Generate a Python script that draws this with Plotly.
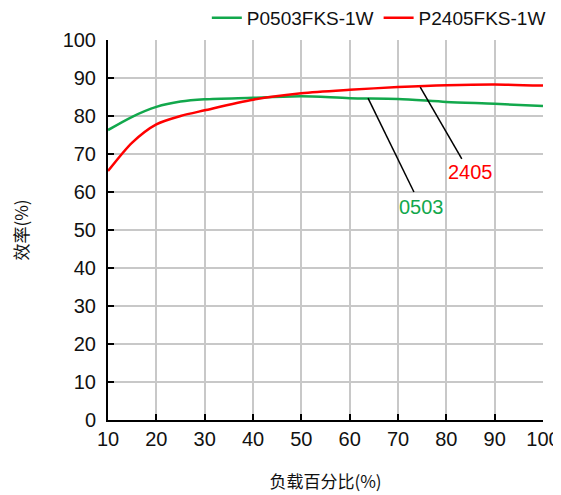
import plotly.graph_objects as go

load = [10, 15, 20, 25, 30, 40, 50, 60, 70, 80, 90, 100]
eff_0503 = [76.3, 79.8, 82.4, 83.8, 84.4, 84.8, 85.2, 84.7, 84.5, 83.7, 83.2, 82.6]
eff_2405 = [65.5, 73.0, 77.8, 80.0, 81.5, 84.3, 86.0, 86.9, 87.6, 88.1, 88.3, 88.0]

x_ticks = [10, 20, 30, 40, 50, 60, 70, 80, 90, 100]
y_ticks = [0, 10, 20, 30, 40, 50, 60, 70, 80, 90, 100]

GREEN = "#12a84c"
RED = "#ff0000"
FONT = "Liberation Sans, Arial, sans-serif"
CJK = "Noto Sans CJK SC"

fig = go.Figure()
fig.add_trace(go.Scatter(x=load, y=eff_0503, mode="lines", name="P0503FKS-1W",
                         line=dict(color=GREEN, width=2.5, shape="spline", smoothing=0.8)))
fig.add_trace(go.Scatter(x=load, y=eff_2405, mode="lines", name="P2405FKS-1W",
                         line=dict(color=RED, width=2.5, shape="spline", smoothing=0.8)))

# leader lines
fig.add_shape(type="line", x0=63.8, y0=84.7, x1=73.3, y1=60.0, line=dict(color="black", width=1.5))
fig.add_shape(type="line", x0=74.6, y0=87.6, x1=83.2, y1=68.7, line=dict(color="black", width=1.5))
fig.add_annotation(x=74.8, y=56.0, text="0503", showarrow=False,
                   font=dict(family=FONT, size=20, color=GREEN))
fig.add_annotation(x=84.9, y=65.3, text="2405", showarrow=False,
                   font=dict(family=FONT, size=20, color=RED))

fig.update_layout(
    width=553, height=487,
    margin=dict(l=100, r=18, t=32, b=75, autoexpand=False),
    paper_bgcolor="white", plot_bgcolor="white",
    font=dict(family=FONT, size=20, color="#111111"),
    showlegend=True,
    legend=dict(orientation="h", x=1.018, xanchor="right", y=1.058, yanchor="middle",
                font=dict(family=FONT, size=19, color="#111111"),
                bgcolor="rgba(0,0,0,0)", itemwidth=30, tracegroupgap=0),
)
fig.update_xaxes(range=[10, 100], tickvals=x_ticks, showgrid=True, gridcolor="#c8c8c8", gridwidth=1.5,
                 showline=True, linecolor="black", linewidth=2, ticks="inside", ticklen=6,
                 tickcolor="black", tickwidth=1.5, zeroline=False, mirror=False, automargin=False,
                 tickfont=dict(size=20),
                 title=dict(text="负载百分比(%)", font=dict(family=CJK, size=17), standoff=27))
fig.update_yaxes(range=[0, 100], tickvals=y_ticks, showgrid=True, gridcolor="#c8c8c8", gridwidth=1.5,
                 showline=True, linecolor="black", linewidth=2, ticks="inside", ticklen=6,
                 tickcolor="black", tickwidth=1.5, zeroline=False, ticklabelstandoff=6, automargin=False,
                 tickfont=dict(size=20),
                 title=dict(text="效率(%)", font=dict(family=CJK, size=17), standoff=38))

fig.write_html("out.html")
